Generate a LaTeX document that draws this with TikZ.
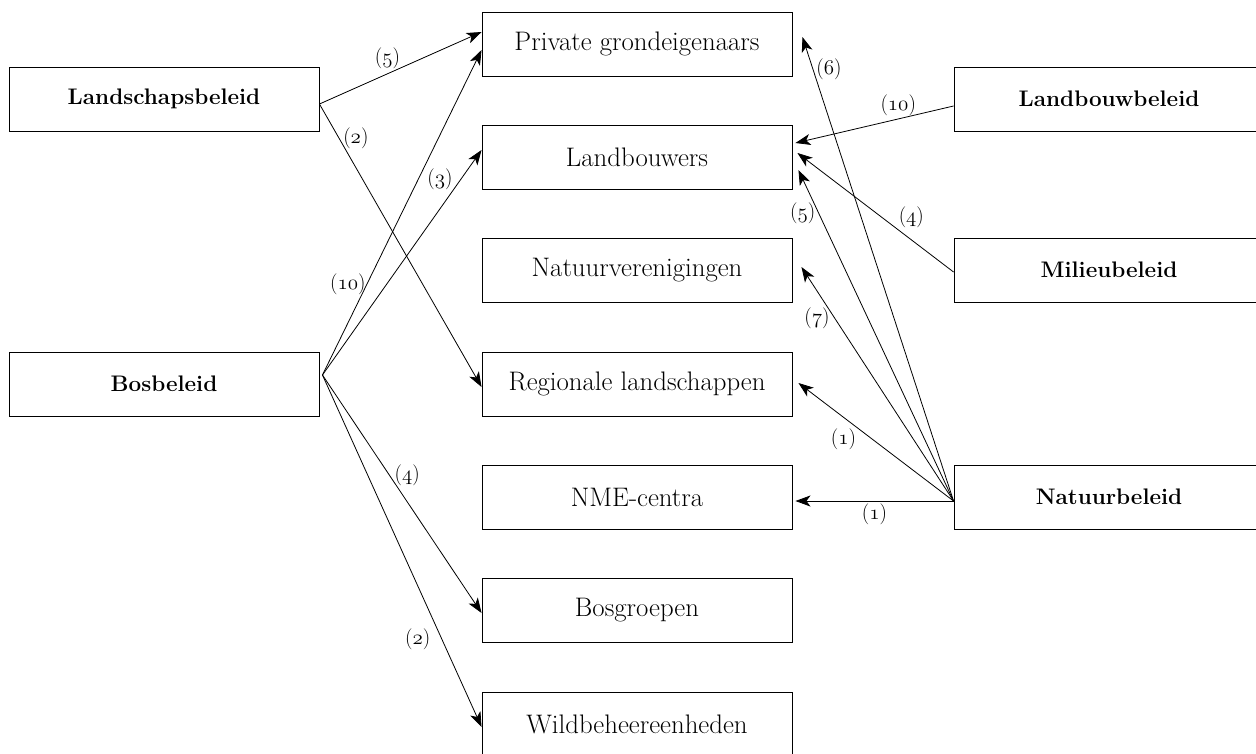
\RequirePackage{fix-cm}
\documentclass[tikz,border=0pt]{standalone}
\usepackage{fontspec}
\usetikzlibrary{arrows.meta}
\tikzset{>={Stealth[length=15pt,width=11pt,inset=4pt]}}
\tikzset{
  box/.style={draw, line width=0.9pt, minimum width=310pt, minimum height=64pt,
    inner sep=0pt, font=\fontsize{26.8}{30}\selectfont},
  beleid/.style={box, font=\fontsize{22.5}{26}\selectfont\bfseries},
  lbl/.style={font=\fontsize{21}{23}\selectfont, inner sep=1pt},
  link/.style={->, line width=0.8pt}}
\newcommand{\nr}[1]{({\usefont{OML}{cmm}{m}{it}#1})}

\begin{document}
\begin{tikzpicture}[x=1pt,y=-1pt]
  \useasboundingbox (0,0) rectangle (1256,753);
  \clip (0,0) rectangle (1256,753);

  % BELEID
  \node[beleid] (lsb) at (164,99) {Landschapsbeleid};
  \node[beleid] (bos) at (164,384) {Bosbeleid};
  \node[beleid] (lbb) at (1109,99) {Landbouwbeleid};
  \node[beleid] (mil) at (1109,270) {Milieubeleid};
  \node[beleid] (nat) at (1109,497) {Natuurbeleid};

  % ACTOREN
  \node[box] (prv) at (637,44) {Private grondeigenaars};
  \node[box] (lbw) at (637,157) {Landbouwers};
  \node[box] (ntv) at (637,270) {Natuurverenigingen};
  \node[box] (reg) at (637,384) {Regionale landschappen};
  \node[box] (nme) at (637,497) {NME-centra};
  \node[box] (bsg) at (637,610) {Bosgroepen};
  \node[box] (wbe) at (637,724) {Wildbeheereenheden};

  % LINKS
  \draw[link] ([yshift=-5pt]lsb.east) -- ([yshift=12pt]prv.west)
    node[lbl, pos=0.42, above=4pt] {\nr{5}};
  \draw[link] ([yshift=-5pt]lsb.east) -- ([yshift=-3pt]reg.west)
    node[lbl, pos=0.12, right=3pt] {\nr{2}};
  \draw[link] ([xshift=3pt,yshift=9pt]bos.east) -- ([yshift=-6pt]prv.west)
    node[lbl, pos=0.28, left=0pt] {\nr{10}};
  \draw[link] ([xshift=3pt,yshift=9pt]bos.east) -- ([yshift=7pt]lbw.west)
    node[lbl, pos=0.87, left=7pt] {\nr{3}};
  \draw[link] ([xshift=3pt,yshift=9pt]bos.east) -- ([yshift=-3pt]bsg.west)
    node[lbl, pos=0.42, right=4pt] {\nr{4}};
  \draw[link] ([xshift=3pt,yshift=9pt]bos.east) -- ([yshift=-3pt]wbe.west)
    node[lbl, pos=0.75, left=10pt] {\nr{2}};

  \draw[link] ([yshift=-7pt]lbb.west) -- ([xshift=3pt,yshift=14pt]lbw.east)
    node[lbl, pos=0.35, above=2pt] {\nr{10}};
  \draw[link] ([yshift=-2pt]mil.west) -- ([xshift=5pt,yshift=4pt]lbw.east)
    node[lbl, pos=0.36, above right=0pt] {\nr{4}};
  \draw[link] ([yshift=-4pt]nat.west) -- ([xshift=10pt,yshift=7pt]prv.east)
    node[lbl, pos=0.93, right=2pt] {\nr{6}};
  \draw[link] ([yshift=-4pt]nat.west) -- ([xshift=6pt,yshift=-13pt]lbw.east)
    node[lbl, pos=0.87, left=2pt] {\nr{5}};
  \draw[link] ([yshift=-4pt]nat.west) -- ([xshift=9pt,yshift=3pt]ntv.east)
    node[lbl, pos=0.78, left=4pt] {\nr{7}};
  \draw[link] ([yshift=-4pt]nat.west) -- ([xshift=6pt,yshift=1pt]reg.east)
    node[lbl, pos=0.62, below left=0pt] {\nr{1}};
  \draw[link] ([yshift=-4pt]nat.west) -- ([xshift=3pt,yshift=-4pt]nme.east)
    node[lbl, pos=0.5, below=1pt] {\nr{1}};
\end{tikzpicture}
\end{document}
